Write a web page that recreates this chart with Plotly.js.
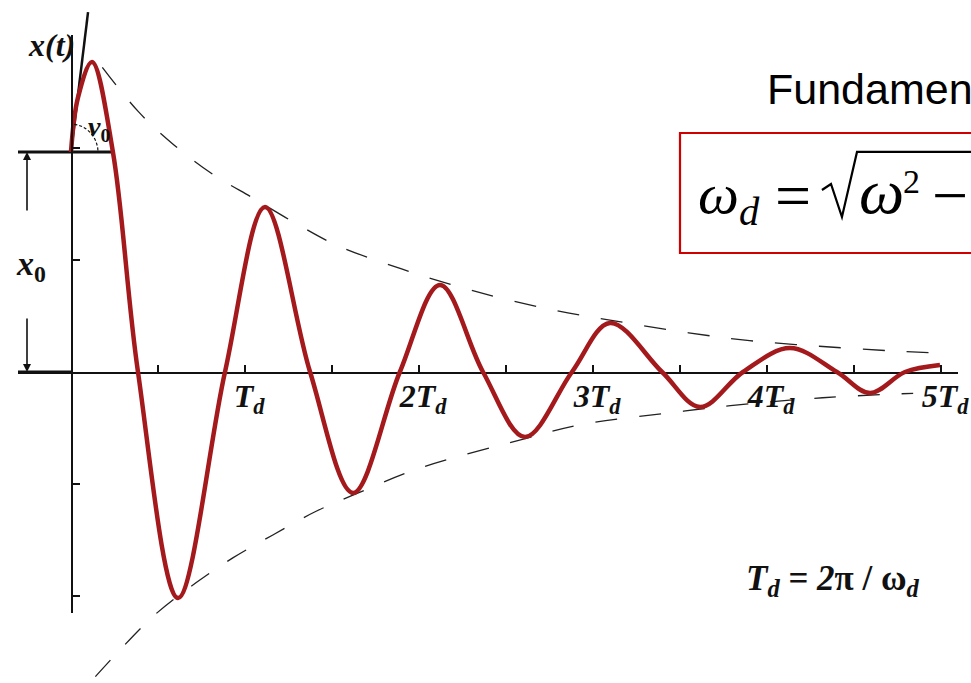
<!DOCTYPE html>
<html>
<head>
<meta charset="utf-8">
<script src="https://cdn.plot.ly/plotly-3.0.1.min.js"></script>
<style>
  html, body { margin: 0; padding: 0; background: #fff; overflow: hidden; }
  #chart { width: 971px; height: 683px; }
</style>
</head>
<body>
<div id="chart"></div>
<script>
// Damped free vibration x(t): time in periods T_d, displacement in units of the tick spacing
const tCurve = [0, 0.04, 0.121, 0.241, 0.385, 0.615, 0.885, 1.115, 1.374, 1.621, 1.89, 2.121,
                2.368, 2.609, 2.879, 3.098, 3.397, 3.615, 3.862, 4.132, 4.402, 4.592, 4.793, 4.994];
const xCurve = [1.964, 2.45, 2.768, 1.964, 0, -2.018, 0, 1.473, 0, -1.080, 0, 0.777,
                0, -0.580, 0, 0.4375, 0, -0.3125, 0, 0.214, 0, -0.1875, 0, 0.0625];

// Decay envelopes (dashed)
const tUpper = [0.18, 0.39, 0.59, 0.82, 1.05, 1.3, 1.53, 1.9, 2.3, 2.75, 3.15, 3.55, 3.9, 4.3, 4.7, 4.97];
const xUpper = [2.72, 2.32, 2.03, 1.76, 1.55, 1.32, 1.13, 0.92, 0.73, 0.56, 0.45, 0.35, 0.28, 0.23, 0.19, 0.17];
const tLower = [0.14, 0.27, 0.48, 0.72, 0.93, 1.16, 1.40, 1.62, 2.0, 2.6, 2.93, 3.52, 3.79, 4.32, 4.84];
const xLower = [-2.72, -2.50, -2.17, -1.88, -1.66, -1.455, -1.25, -1.10, -0.86, -0.60, -0.47, -0.35, -0.30, -0.23, -0.19];

// Initial conditions: displacement x0 and the initial-velocity tangent
const x0 = 1.964;
const tTangent = [0, 0.098];
const xTangent = [1.964, 3.214];

// Axis ticks: labelled whole periods, unlabelled half periods
const xTickVals = [1, 2, 3, 4, 5];
const xTickText = ['<i>T</i><sub>d</sub>', '2<i>T</i><sub>d</sub>', '3<i>T</i><sub>d</sub>',
                   '4<i>T</i><sub>d</sub>', '5<i>T</i><sub>d</sub>'];
const xHalfTicks = [0.5, 1.5, 2.5, 3.5, 4.5];
const yTickVals = [-2, -1, 1, 2];

// Page geometry (pixels)
const W = 971, H = 683;
const ORIGIN_X = 71, PERIOD_PX = 174, ZERO_Y = 372, UNIT_PX = 112;
const px = v => v / W;
const py = v => 1 - v / H;

const serif = 'Liberation Serif, Times New Roman, serif';
const black = '#111';
const envLine = { color: '#222', width: 1.3, dash: '22px,22px' };

const traces = [
  { x: tUpper, y: xUpper, xaxis: 'x', yaxis: 'y', mode: 'lines',
    line: Object.assign({ shape: 'spline' }, envLine), hoverinfo: 'skip' },
  { x: tLower, y: xLower, xaxis: 'x', yaxis: 'y', mode: 'lines',
    line: Object.assign({ shape: 'spline' }, envLine), hoverinfo: 'skip' },
  // Thick reference lines at x0 and at the rest position, left of the axis
  { x: [(18 - ORIGIN_X) / PERIOD_PX, 0.241], y: [x0, x0], xaxis: 'x', yaxis: 'y', mode: 'lines',
    line: { color: black, width: 3 }, hoverinfo: 'skip' },
  { x: [(18 - ORIGIN_X) / PERIOD_PX, 0], y: [0, 0], xaxis: 'x', yaxis: 'y', mode: 'lines',
    line: { color: black, width: 3 }, hoverinfo: 'skip' },
  // Initial velocity tangent
  { x: tTangent, y: xTangent, xaxis: 'x', yaxis: 'y', mode: 'lines',
    line: { color: black, width: 2.5 }, hoverinfo: 'skip' },
  // Response curve
  { x: tCurve, y: xCurve, xaxis: 'x', yaxis: 'y2', mode: 'lines',
    line: { color: '#a3191c', width: 4.5, shape: 'spline', smoothing: 1 }, hoverinfo: 'skip' }
];

const dimX = (27 - ORIGIN_X) / PERIOD_PX;

// radical sign of the boxed formula, in page pixels
const radical = [[822, 190], [831, 184], [842, 217], [857, 152], [1000, 152]];
const radicalPath = radical.map((p, i) => (i ? 'L ' : 'M ') + px(p[0]).toFixed(4) + ',' + py(p[1]).toFixed(4)).join(' ');

const layout = {
  width: W, height: H,
  margin: { l: 0, r: 0, t: 0, b: 0 },
  paper_bgcolor: '#fff',
  plot_bgcolor: 'rgba(0,0,0,0)',
  showlegend: false,
  xaxis: {
    domain: [18 / W, 958 / W],
    range: [(18 - ORIGIN_X) / PERIOD_PX, (958 - ORIGIN_X) / PERIOD_PX],
    anchor: 'free', position: (H - ZERO_Y) / H,
    showline: true, linecolor: black, linewidth: 1.5,
    ticks: 'inside', ticklen: 7, tickwidth: 1.2, tickcolor: black,
    tickvals: xTickVals, ticktext: xTickText,
    ticklabelstandoff: -5, ticklabelshift: 4,
    minor: { tickvals: xHalfTicks, ticks: 'inside', ticklen: 7, tickwidth: 1.2, tickcolor: black, showgrid: false },
    tickfont: { family: serif, size: 32, color: black, weight: 'bold', style: 'italic' },
    showgrid: false, zeroline: false, fixedrange: true
  },
  yaxis: {
    domain: [0, 1],
    range: [(ZERO_Y - H) / UNIT_PX, ZERO_Y / UNIT_PX],
    visible: false, fixedrange: true
  },
  yaxis2: {
    domain: [(H - 613) / H, (H - 35) / H],
    range: [(ZERO_Y - 613) / UNIT_PX, (ZERO_Y - 35) / UNIT_PX],
    anchor: 'free', position: ORIGIN_X / W,
    showline: true, linecolor: black, linewidth: 1.5,
    ticks: 'inside', ticklen: 7, tickwidth: 1.2, tickcolor: black,
    tickvals: yTickVals, showticklabels: false,
    showgrid: false, zeroline: false, fixedrange: true
  },
  shapes: [
    // angle arc for the initial velocity
    { type: 'path', xref: 'x', yref: 'y',
      path: 'M 0.019,2.211 C 0.0966,2.197 0.155,2.086 0.155,1.964',
      line: { color: black, width: 1.2, dash: '3px,2px' } },
    // boxed formula
    { type: 'rect', xref: 'paper', yref: 'paper',
      x0: px(680), x1: px(1000), y0: py(253), y1: py(133),
      line: { color: '#d10000', width: 2.2 }, fillcolor: 'rgba(0,0,0,0)' },
    // radical sign with its bar
    { type: 'path', xref: 'paper', yref: 'paper', path: radicalPath,
      line: { color: '#000', width: 2.2 } }
  ],
  annotations: [
    // dimension arrows for x0
    { x: dimX, y: x0, ax: dimX, ay: (ZERO_Y - 212) / UNIT_PX, xref: 'x', yref: 'y', axref: 'x', ayref: 'y',
      text: '', showarrow: true, arrowhead: 2, arrowsize: 1, arrowwidth: 1.6, arrowcolor: black },
    { x: dimX, y: 0, ax: dimX, ay: (ZERO_Y - 317) / UNIT_PX, xref: 'x', yref: 'y', axref: 'x', ayref: 'y',
      text: '', showarrow: true, arrowhead: 2, arrowsize: 1, arrowwidth: 1.6, arrowcolor: black },
    { x: px(31), y: py(266), xref: 'paper', yref: 'paper', showarrow: false,
      xanchor: 'center', yanchor: 'middle',
      text: '<b><i>x</i><sub>0</sub></b>', font: { family: serif, size: 34, color: black } },
    { x: px(51), y: py(45), xref: 'paper', yref: 'paper', showarrow: false,
      xanchor: 'center', yanchor: 'middle',
      text: '<b><i>x(t)</i></b>', font: { family: serif, size: 32, color: black } },
    { x: px(99), y: py(128), xref: 'paper', yref: 'paper', showarrow: false,
      xanchor: 'center', yanchor: 'middle',
      text: '<b><i>v</i><sub>0</sub></b>', font: { family: serif, size: 28, color: black } },
    { x: px(765), y: py(89), xref: 'paper', yref: 'paper', showarrow: false,
      xanchor: 'left', yanchor: 'middle',
      text: 'Fundamental', font: { family: 'Liberation Sans, Arial, sans-serif', size: 43, color: '#000' } },
    // ω_d = √(ω² − ...)
    { x: px(696), y: py(198), xref: 'paper', yref: 'paper', showarrow: false,
      xanchor: 'left', yanchor: 'middle',
      text: '<i>ω</i><sub><i>d</i></sub>', font: { family: serif, size: 58, color: '#000' } },
    { x: px(773), y: py(195), xref: 'paper', yref: 'paper', showarrow: false,
      xanchor: 'left', yanchor: 'middle',
      text: '=', font: { family: serif, size: 64, color: '#000' } },
    { x: px(857), y: py(191), xref: 'paper', yref: 'paper', showarrow: false,
      xanchor: 'left', yanchor: 'middle',
      text: '<i>ω</i>', font: { family: serif, size: 64, color: '#000' } },
    { x: px(901), y: py(181), xref: 'paper', yref: 'paper', showarrow: false,
      xanchor: 'left', yanchor: 'middle',
      text: '2', font: { family: serif, size: 34, color: '#000' } },
    { x: px(930), y: py(195), xref: 'paper', yref: 'paper', showarrow: false,
      xanchor: 'left', yanchor: 'middle',
      text: '−', font: { family: serif, size: 64, color: '#000' } },
    // period relation
    { x: px(833), y: py(580), xref: 'paper', yref: 'paper', showarrow: false,
      xanchor: 'center', yanchor: 'middle',
      text: '<b><i>T</i><sub><i>d</i></sub> = <i>2</i>π / ω<sub><i>d</i></sub></b>',
      font: { family: serif, size: 35, color: black } }
  ]
};

Plotly.newPlot('chart', traces, layout, { displayModeBar: false, staticPlot: true });
</script>
</body>
</html>
